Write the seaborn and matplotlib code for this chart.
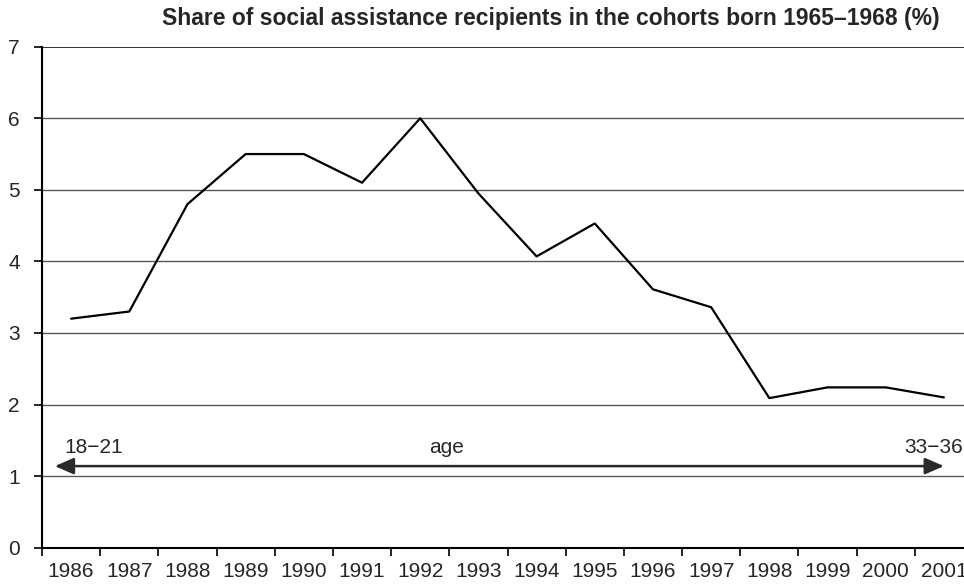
import numpy as np
import pandas as pd
import matplotlib
matplotlib.use("Agg")
import matplotlib.pyplot as plt
import seaborn as sns

years = ["1986", "1987", "1988", "1989", "1990", "1991", "1992", "1993",
         "1994", "1995", "1996", "1997", "1998", "1999", "2000", "2001"]
share = [3.2, 3.3, 4.8, 5.5, 5.5, 5.1, 6.0, 4.95, 4.07, 4.53, 3.61, 3.36,
         2.09, 2.24, 2.24, 2.1]
y_ticks = [0, 1, 2, 3, 4, 5, 6, 7]

sns.set_style("white")
plt.rcParams['font.family'] = ['Liberation Sans', 'DejaVu Sans']

fig = plt.figure(figsize=(9.64, 5.84), dpi=100)
W, H = 964, 584
ax = fig.add_axes([42 / W, 1 - 547.7 / H, (973 - 42) / W, (547.7 - 46.7) / H])

pos = np.arange(len(years))
df = pd.DataFrame({"pos": pos, "share": share})
sns.lineplot(data=df, x="pos", y="share", ax=ax, color="black", linewidth=1.6)

ax.set_xlim(-0.5, len(years) - 0.5)
ax.set_ylim(0, 7)
ax.set_yticks(y_ticks)
ax.set_yticklabels([str(v) for v in y_ticks], fontsize=15)
for v in y_ticks[1:-1]:
    ax.axhline(v, color="#5a5a5a", linewidth=1.0, zorder=0)
ax.axhline(7, color="#222222", linewidth=1.3, zorder=0)

ax.set_xticks(np.arange(len(years) + 1) - 0.5)
ax.set_xticklabels([])
ax.set_xticks(pos, minor=True)
ax.set_xticklabels(years, minor=True, fontsize=15)
ax.tick_params(axis="x", which="major", bottom=True, direction="out", length=6, width=1.2, color="black")
ax.tick_params(axis="x", which="minor", bottom=True, length=0, pad=10)
ax.tick_params(axis="y", left=True, direction="out", length=6, width=1.2, color="black", pad=10)

for s in ["top", "right"]:
    ax.spines[s].set_visible(False)
for s in ["left", "bottom"]:
    ax.spines[s].set_color("black")
    ax.spines[s].set_linewidth(1.5)
ax.set_xlabel("")
ax.set_ylabel("")

ax.annotate("", xy=(-0.28, 1.14), xytext=(15.0, 1.14),
            arrowprops=dict(arrowstyle="<|-|>,head_length=1.15,head_width=0.5",
                            color="#2a2a2a", lw=1.8, shrinkA=0, shrinkB=0))
ax.text(-0.12, 1.32, "18\u221221", fontsize=15, ha="left", va="baseline")
ax.text(6.46, 1.32, "age", fontsize=15, ha="center", va="baseline")
ax.text(15.32, 1.32, "33\u221236", fontsize=15, ha="right", va="baseline")

fig.text(551 / W, 1 - 18 / H, "Share of social assistance recipients in the cohorts born 1965\u20131968 (%)",
         fontsize=16.5, fontweight="bold", ha="center", va="center")

fig.savefig("out.png", dpi=100)
